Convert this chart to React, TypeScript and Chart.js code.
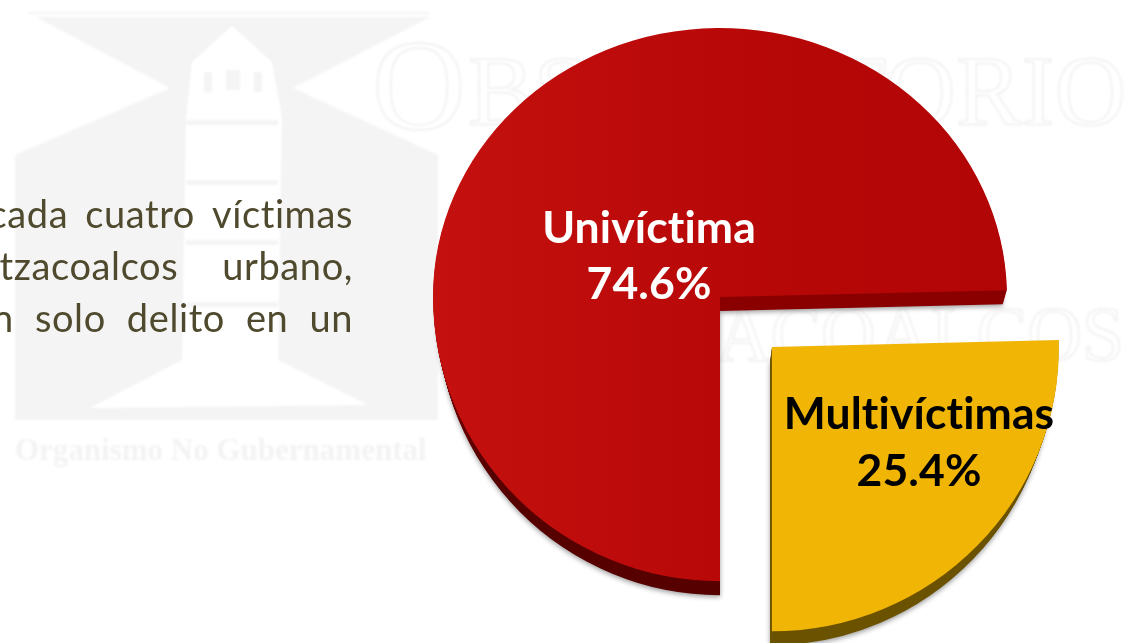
import React, { useEffect, useRef } from "react";
import { Chart, registerables } from "chart.js";

Chart.register(...registerables);

const categories = ["Univíctima", "Multivíctimas"];
const shares = [74.6, 25.4];
const faceColors = ["#B80808", "#F0B505"];
const sideColors = ["#8A0000", "#6B5200"];
const sideShade = ["#560000", "#6B5200"];
const labelColors = ["#FFFFFF", "#000000"];
const paragraphLines = ["cada cuatro víctimas", "tzacoalcos urbano,", "n solo delito en un"];
const paragraphGaps = [17, 44, 21];
const paragraphBaselines = [228, 280, 332];

const W = 1126, H = 643;
const CX = 720, CY = 297, R = 287;
const SCALE_UP = 269 / 287, SCALE_DOWN = 0.99;
const DEPTH = [14, 14];

function background(ctx: CanvasRenderingContext2D) {
  ctx.save();
  ctx.fillStyle = "#FFFFFF";
  ctx.fillRect(0, 0, W, H);
  (ctx as any).filter = "blur(1px)";
  const g = "#F4F4F4";
  ctx.fillStyle = g;
  ctx.beginPath();
  [[36, 17], [430, 17], [293, 88], [438, 155], [438, 420], [15, 420], [15, 155], [170, 88]].forEach(([x, y], i) =>
    i ? ctx.lineTo(x, y) : ctx.moveTo(x, y));
  ctx.closePath();
  ctx.fill();
  ctx.fillRect(28, 12, 402, 2);
  ctx.fillStyle = "#FFFFFF";
  ctx.beginPath();
  [[232, 26], [272, 62], [282, 118], [278, 360], [368, 405], [90, 408], [182, 360], [186, 118], [192, 62]].forEach(([x, y], i) =>
    i ? ctx.lineTo(x, y) : ctx.moveTo(x, y));
  ctx.closePath();
  ctx.fill();
  ctx.fillStyle = g;
  ctx.fillRect(226, 70, 14, 20);
  ctx.fillRect(204, 72, 8, 20);
  ctx.fillRect(254, 72, 8, 20);
  ctx.fillRect(186, 120, 92, 5);
  ctx.fillRect(186, 180, 92, 5);
  ctx.fillRect(186, 240, 92, 5);
  ctx.fillRect(186, 302, 92, 5);
  ctx.font = "bold 31px 'Liberation Serif'";
  ctx.fillStyle = "#F3F3F3";
  ctx.textAlign = "left";
  ctx.fillText("Organismo No Gubernamental", 15, 460, 424);
  ctx.strokeStyle = "#EFEFEF";
  ctx.lineWidth = 1.5;
  ctx.font = "130px 'Liberation Serif'";
  ctx.strokeText("O", 372, 129);
  ctx.font = "100px 'Liberation Serif'";
  ctx.strokeText("BSERVATORIO", 468, 124, 658);
  ctx.font = "78px 'Liberation Serif'";
  ctx.textAlign = "right";
  ctx.strokeText("COATZACOALCOS", 1124, 360, 652);
  ctx.restore();
}

function paragraph(ctx: CanvasRenderingContext2D) {
  ctx.save();
  ctx.font = "38px Lato";
  (ctx as any).letterSpacing = "0.6px";
  ctx.fillStyle = "#4F4A2E";
  ctx.textAlign = "right";
  ctx.textBaseline = "alphabetic";
  const space = ctx.measureText(" ").width;
  paragraphLines.forEach((t, i) => {
    (ctx as any).wordSpacing = `${paragraphGaps[i] - space}px`;
    ctx.fillText(t, 353, paragraphBaselines[i]);
  });
  ctx.restore();
}

function piece(ctx: CanvasRenderingContext2D, dy: number, paint: () => void, upper: boolean) {
  const sx = 1 - dy * 0.001;
  const dx = upper ? 0 : -dy * 0.08;
  if (upper) {
    ctx.save();
    ctx.beginPath();
    ctx.rect(0, 0, W, CY + dy);
    ctx.clip();
    ctx.translate(CX + dx, CY + dy);
    ctx.scale(sx, SCALE_UP);
    ctx.translate(-CX, -CY);
    paint();
    ctx.restore();
  }
  ctx.save();
  ctx.beginPath();
  ctx.rect(0, CY + dy, W, H);
  ctx.clip();
  ctx.translate(CX + dx, CY + dy);
  ctx.scale(sx, SCALE_DOWN);
  ctx.translate(-CX, -CY);
  paint();
  ctx.restore();
}

const piePlugin = {
  id: "pie3d",
  beforeDraw(chart: any) {
    background(chart.ctx);
    paragraph(chart.ctx);
  },
  beforeDatasetsDraw(chart: any) {
    const ctx = chart.ctx as CanvasRenderingContext2D;
    const arcs = chart.getDatasetMeta(0).data;
    arcs.forEach((el: any, i: number) => {
      const face = el.options;
      const grad = ctx.createLinearGradient(0, CY, 0, CY + R);
      grad.addColorStop(0, sideColors[i]);
      grad.addColorStop(0.6, sideShade[i]);
      const side = { ...face, backgroundColor: grad };
      const upper = i === 0;
      el.options = side;
      ctx.save();
      ctx.shadowColor = "rgba(40,40,40,0.45)";
      ctx.shadowBlur = 5;
      ctx.shadowOffsetY = 2;
      piece(ctx, DEPTH[i], () => el.draw(ctx), upper);
      ctx.restore();
      for (let d = DEPTH[i] - 1; d > 0; d--) {
        piece(ctx, d, () => el.draw(ctx), upper);
      }
      el.options = face;
      piece(ctx, 0, () => el.draw(ctx), upper);
    });
    return false;
  },
  afterDraw(chart: any) {
    const ctx = chart.ctx as CanvasRenderingContext2D;
    const at = [[649, 243, 299], [919, 429, 486]];
    ctx.save();
    ctx.font = "bold 44.5px Lato";
    (ctx as any).letterSpacing = "0.1px";
    ctx.textAlign = "center";
    ctx.textBaseline = "alphabetic";
    categories.forEach((c, i) => {
      ctx.fillStyle = labelColors[i];
      ctx.fillText(c, at[i][0], at[i][1]);
      ctx.fillText(`${shares[i].toFixed(1)}%`, at[i][0], at[i][2]);
    });
    ctx.restore();
  },
};

export default function App() {
  const ref = useRef<HTMLCanvasElement>(null);
  useEffect(() => {
    const canvas = ref.current!;
    document.body.style.margin = "0";
    document.body.style.overflow = "hidden";
    const c2d = canvas.getContext("2d")!;
    const red = c2d.createLinearGradient(CX - R, 0, CX + R, 0);
    red.addColorStop(0, "#C4110F");
    red.addColorStop(0.5, "#B80808");
    red.addColorStop(1, "#B20505");
    const chart = new Chart(canvas, {
      type: "pie",
      data: {
        labels: categories,
        datasets: [{
          data: shares,
          backgroundColor: [red, faceColors[1]],
          borderWidth: 0,
          offset: [0, 290],
          radius: R,
        }],
      } as any,
      options: {
        responsive: false,
        animation: false,
        rotation: 180,
        layout: { padding: { left: 2 * CX - W, bottom: H - 2 * CY, top: 0, right: 0 } },
        plugins: { legend: { display: false }, tooltip: { enabled: false } },
      } as any,
      plugins: [piePlugin as any],
    });
    return () => chart.destroy();
  }, []);
  return (
    <div style={{ position: "absolute", left: 0, top: 0, width: W, height: H, overflow: "hidden" }}>
      <canvas ref={ref} width={W} height={H} style={{ display: "block" }} />
    </div>
  );
}
